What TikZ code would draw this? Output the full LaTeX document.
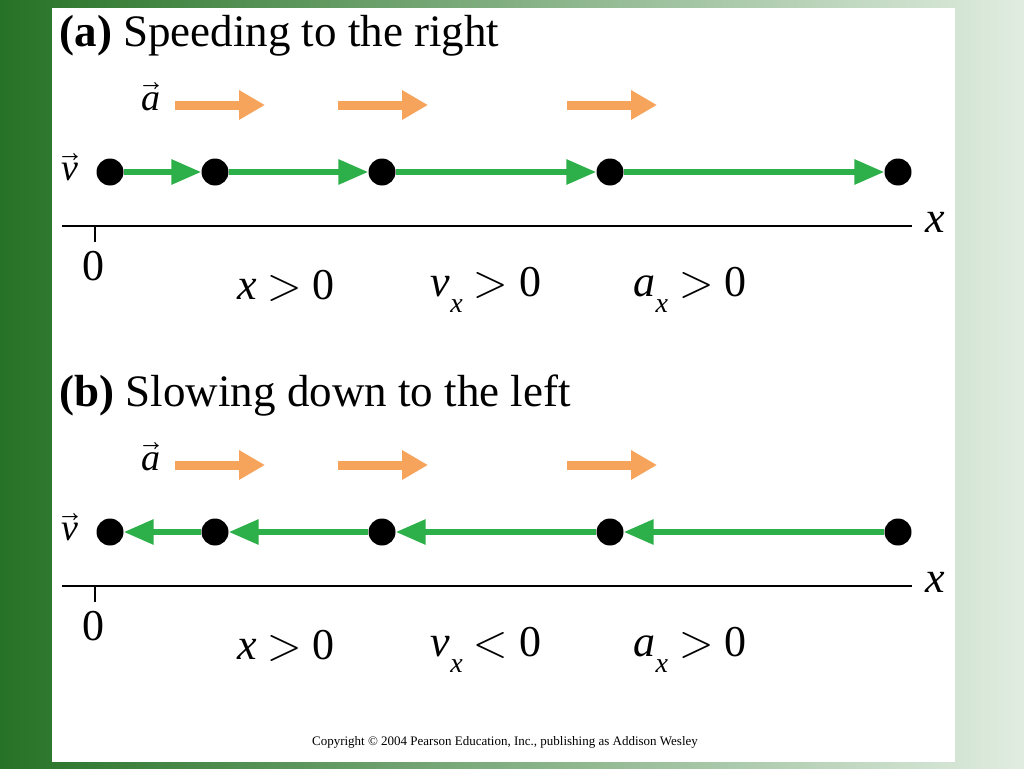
\documentclass[tikz,border=0pt]{standalone}
\usepackage{unicode-math}
\setmainfont{Liberation Serif}
\setmathfont{Latin Modern Math}
\usetikzlibrary{arrows.meta}
\definecolor{gr}{HTML}{2DB04A}
\definecolor{orng}{HTML}{F6A45C}
\newcommand{\sbx}[1]{\raisebox{-16pt}{\fontsize{28}{30}\selectfont\textit{#1}}}
\begin{document}
\begin{tikzpicture}[x=1pt,y=-1pt,
  dot/.style={circle,fill=black,minimum size=27pt,inner sep=0pt},
  garr/.style={draw=gr,line width=6pt,-{Triangle[length=30pt,width=24pt]}},
  oarr/.style={draw=orng,line width=9pt,-{Triangle[length=26pt,width=28pt]}},
  ttl/.style={anchor=west,font=\fontsize{45}{48}\selectfont},
  lbl/.style={font=\fontsize{44}{46}\selectfont},
  vl/.style={font=\fontsize{38}{40}\selectfont}]
\useasboundingbox (0,0) rectangle (1024,768);
\shade[left color=green!35!black!85, right color=green!40!black!15!white!80] (0,0) rectangle (1024,768);
\fill[white] (52,8) rectangle (955,762);
\foreach \dy/\t/\s/\dir in {0/a/Speeding to the right/1,360/b/Slowing down to the left/-1}{
  \begin{scope}[yshift=-\dy pt]
  \node[ttl] (t\t) at (56,36) {\textbf{(\t)} \s};
  \node[vl] (av\t) at (151,97) {$\vec{\textit{a}}$};
  \node[vl] (vv\t) at (70,167) {$\vec{\textit{v}}$};
  \coordinate (o1\t) at (175,105); \coordinate (o1e\t) at (265,105);
  \coordinate (o2\t) at (338,105); \coordinate (o2e\t) at (428,105);
  \coordinate (o3\t) at (567,105); \coordinate (o3e\t) at (657,105);
  \draw[oarr] (o1\t) -- (o1e\t);
  \draw[oarr] (o2\t) -- (o2e\t);
  \draw[oarr] (o3\t) -- (o3e\t);
  \node[dot] (d1\t) at (110,172) {};
  \node[dot] (d2\t) at (215,172) {};
  \node[dot] (d3\t) at (382,172) {};
  \node[dot] (d4\t) at (610,172) {};
  \node[dot] (d5\t) at (898,172) {};
  \ifnum\dir=1
    \draw[garr] (d1\t) -- (d2\t.west);
    \draw[garr] (d2\t) -- (d3\t.west);
    \draw[garr] (d3\t) -- (d4\t.west);
    \draw[garr] (d4\t) -- (d5\t.west);
  \else
    \draw[garr] (d2\t) -- (d1\t.east);
    \draw[garr] (d3\t) -- (d2\t.east);
    \draw[garr] (d4\t) -- (d3\t.east);
    \draw[garr] (d5\t) -- (d4\t.east);
  \fi
  \coordinate (ax0\t) at (62,226); \coordinate (ax1\t) at (912,226);
  \draw[line width=2.5pt] (ax0\t) -- (ax1\t);
  \coordinate (tk0\t) at (95,226); \coordinate (tk1\t) at (95,242);
  \draw[line width=2.5pt] (tk0\t) -- (tk1\t);
  \node[lbl] (x\t) at (935,222) {\textit{x}};
  \node[lbl] (z\t) at (93,266) {0};
  \node[lbl] (l1\t) at (286,286) {\textit{x} $>$ 0};
  \node[lbl] (l3\t) at (690,290) {\textit{a}\sbx{x} $>$ 0};
  \end{scope}}
\node[lbl] (l2a) at (486,290) {\textit{v}\sbx{x} $>$ 0};
\node[lbl] (l2b) at (486,650) {\textit{v}\sbx{x} $<$ 0};
\node[font=\fontsize{13}{15}\selectfont] (cp) at (505,742) {Copyright © 2004 Pearson Education, Inc., publishing as Addison Wesley};
\end{tikzpicture}
\end{document}
